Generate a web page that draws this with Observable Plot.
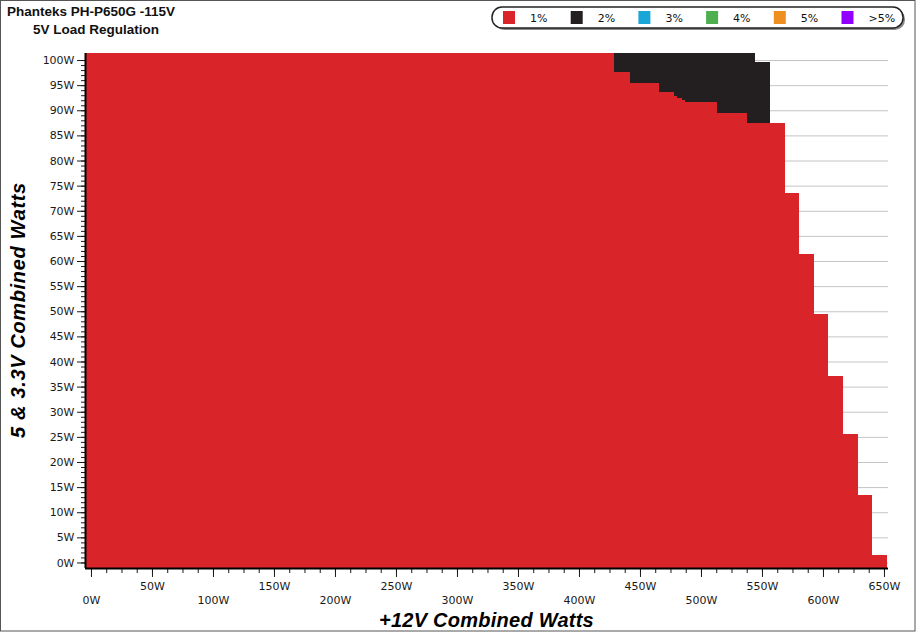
<!DOCTYPE html>
<html><head><meta charset="utf-8">
<script src="https://cdn.jsdelivr.net/npm/d3@7"></script>
<script src="https://cdn.jsdelivr.net/npm/@observablehq/plot@0.6"></script>
<style>
body{margin:0;background:#fff}
#chart{position:relative;width:916px;height:633px;overflow:hidden}
#chart svg{display:block}
</style>
</head><body><div id="chart"></div>
<script>
// ---- text ----
const title = "Phanteks PH-P650G -115V";
const subtitle = "5V Load Regulation";
const xTitle = "+12V Combined Watts";
const yTitle = "5 & 3.3V Combined Watts";

// ---- legend ----
const legendLabels = ["1%", "2%", "3%", "4%", "5%", ">5%"];
const legendColors = ["#d9252a", "#231f20", "#1ba6d8", "#4daf50", "#ef8f1f", "#9100ff"];

// ---- data: columns of +12V load (W) with the 5V/3.3V load reached at each regulation band ----
const edges12V = [-4.9, 428.6, 441.8, 465.6, 477.9, 480.3, 484.2, 486.9, 513.1, 537.5, 544.3,
                  556.6, 568.9, 580.3, 592.6, 604.1, 616.4, 628.7, 640.2, 652.5];
const top1pct5V = [101.4, 97.7, 95.5, 93.6, 92.9, 92.4, 92.0, 91.6, 89.5, 87.5, 87.5,
                   87.5, 73.5, 61.4, 49.4, 37.2, 25.5, 13.4, 1.5];
const top2pct5V = [101.4, 101.4, 101.4, 101.4, 101.4, 101.4, 101.4, 101.4, 101.4, 101.4, 99.7,
                   87.5, 73.5, 61.4, 49.4, 37.2, 25.5, 13.4, 1.5];

// ---- ticks ----
const xTickLabelsUpper = [50, 150, 250, 350, 450, 550, 650];
const xTickLabelsLower = [0, 100, 200, 300, 400, 500, 600];
const xMajorTicks = [0, 50, 100, 150, 200, 250, 300, 350, 400, 450, 500, 550, 600, 650];
const xMinorTicks = d3.range(0, 651, 12.5);
const yMajorTicks = [0, 5, 10, 15, 20, 25, 30, 35, 40, 45, 50, 55, 60, 65, 70, 75, 80, 85, 90, 95, 100];
const yMinorTicks = d3.range(0, 101, 1);

const xDomain = [-4.9, 653.3];
const yDomain = [-1.1, 101.4];

const cols = top1pct5V.map((r, i) => ({x1: edges12V[i], x2: edges12V[i + 1], r, b: top2pct5V[i]}));

const W = 916, H = 633;
const chart = Plot.plot({
  width: W, height: H,
  marginLeft: 85, marginRight: 28, marginTop: 53, marginBottom: 65,
  x: {domain: xDomain},
  y: {domain: yDomain},
  style: {fontFamily: "'DejaVu Sans', Verdana, sans-serif", fontSize: "11px", color: "#1a1a1a", background: "#fff"},
  marks: [
    Plot.ruleY(yMajorTicks, {stroke: "#c4c4c4", strokeWidth: 1}),
    Plot.rect(cols, {x1: "x1", x2: "x2", y1: () => yDomain[0], y2: "r", fill: legendColors[0], shapeRendering: "crispEdges"}),
    Plot.rect(cols.filter(d => d.b > d.r), {x1: "x1", x2: "x2", y1: "r", y2: "b", fill: legendColors[1], shapeRendering: "crispEdges"}),
    Plot.axisY(yMinorTicks, {tickSize: 4, tickFormat: () => "", label: null}),
    Plot.axisY(yMajorTicks, {tickSize: 8, tickPadding: 3, tickFormat: d => d + "W", label: null}),
    Plot.axisX(xMinorTicks, {tickSize: 5, tickFormat: () => "", label: null}),
    Plot.axisX(xMajorTicks, {tickSize: 9, tickFormat: () => "", label: null}),
    Plot.axisX(xTickLabelsUpper, {tickSize: 0, tickPadding: 14, tickFormat: d => d + "W", label: null}),
    Plot.axisX(xTickLabelsLower, {tickSize: 0, tickPadding: 28, tickFormat: d => d + "W", label: null}),
    Plot.ruleX([xDomain[0]], {stroke: "#000", strokeWidth: 2}),
    Plot.ruleY([yDomain[0]], {stroke: "#000", strokeWidth: 2})
  ]
});

const svg = d3.select(chart);
const head = "'Liberation Sans', Arial, sans-serif";
svg.append("text").attr("x", 7).attr("y", 16).attr("text-anchor", "start").attr("font-family", head).attr("font-weight", "bold")
  .attr("font-size", 13.5).attr("fill", "#111").text(title);
svg.append("text").attr("x", 33).attr("y", 34).attr("text-anchor", "start").attr("font-family", head).attr("font-weight", "bold")
  .attr("font-size", 13.5).attr("fill", "#111").text(subtitle);
svg.append("text").attr("x", 486.5).attr("y", 627).attr("text-anchor", "middle").attr("font-family", head)
  .attr("font-weight", "bold").attr("font-style", "italic").attr("font-size", 20).attr("letter-spacing", 0.25)
  .attr("fill", "#000").text(xTitle);
svg.append("text").attr("transform", "translate(25,310) rotate(-90)").attr("text-anchor", "middle").attr("font-family", head)
  .attr("font-weight", "bold").attr("font-style", "italic").attr("font-size", 20).attr("letter-spacing", 0.65)
  .attr("fill", "#000").text(yTitle);

// legend box
const lg = svg.append("g");
lg.append("rect").attr("x", 494).attr("y", 9).attr("width", 411).attr("height", 21).attr("rx", 10).attr("fill", "#8a8a8a");
lg.append("rect").attr("x", 492).attr("y", 7).attr("width", 411).attr("height", 21).attr("rx", 10)
  .attr("fill", "#fff").attr("stroke", "#222").attr("stroke-width", 1.5);
legendLabels.forEach((lab, i) => {
  const x0 = 503 + i * 67.7;
  lg.append("rect").attr("x", x0).attr("y", 11).attr("width", 12).attr("height", 13).attr("fill", legendColors[i]);
  lg.append("text").attr("x", x0 + 27).attr("y", 22).attr("text-anchor", "start").attr("font-family", "'DejaVu Sans', Verdana, sans-serif")
    .attr("font-size", 11).attr("fill", "#111").text(lab);
});

// outer border
svg.append("rect").attr("x", 0.5).attr("y", 0.5).attr("width", W - 1.5).attr("height", H - 2.5)
  .attr("fill", "none").attr("stroke", "#555").attr("stroke-width", 1);

document.getElementById("chart").appendChild(chart);
</script>
</body></html>
